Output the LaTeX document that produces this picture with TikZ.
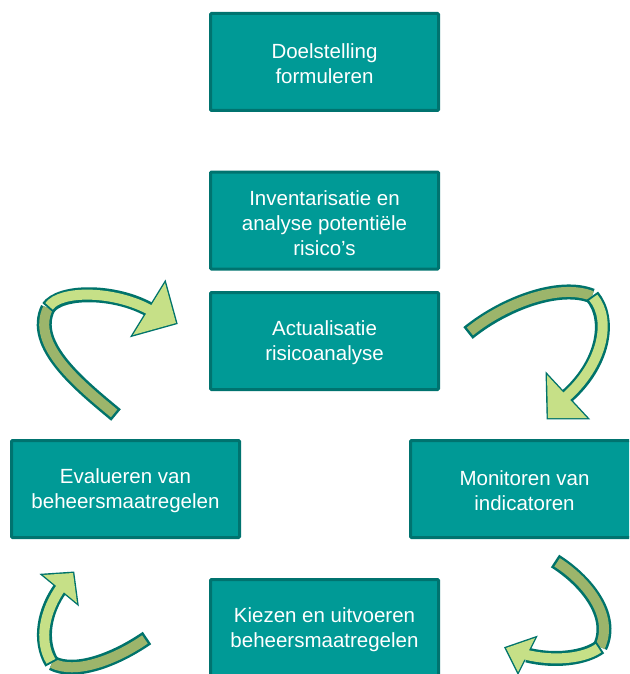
\documentclass[tikz,border=0pt]{standalone}
\usepackage{fontspec}
\setmainfont{Liberation Sans}
\definecolor{boxfill}{HTML}{009A96}
\definecolor{boxline}{HTML}{00736F}
\definecolor{arrline}{HTML}{00736B}
\definecolor{arrdark}{HTML}{9CB56B}
\definecolor{arrlight}{HTML}{C6E087}
\tikzset{
  stepbox/.style={draw=boxline, fill=boxfill, line width=3pt, rounded corners=1pt,
    minimum width=228pt, minimum height=97pt, inner sep=0pt, align=center,
    text=white, font=\fontsize{20.5}{25}\selectfont},
  boxtext/.style={text=white, align=center, font=\fontsize{20.5}{25}\selectfont, inner sep=0pt},
  ribout/.style={draw=arrline, line width=15pt},
  ribdark/.style={draw=arrdark, line width=10pt, shorten <=2.5pt},
  riblight/.style={draw=arrlight, line width=10pt, shorten <=2pt, shorten >=-2pt},
  headst/.style={fill=arrlight, draw=arrline, line width=2.8pt, line join=miter},
  headfill/.style={fill=arrlight}
}
\begin{document}
\begin{tikzpicture}[x=1pt, y=-1pt]
\useasboundingbox (0,0) rectangle (629,674);
\clip (0,0) rectangle (629,674);

\node[stepbox] (b1) at (324.5,62) {};
\node[stepbox] (b2) at (324.5,220.5) {};
\node[stepbox] (b3) at (324.5,341) {};
\node[stepbox] (b4) at (125.5,489) {};
\node[stepbox] (b5) at (524.5,489) {};
\node[stepbox] (b6) at (324.5,628) {};
\node[boxtext] (t1) at ([yshift=-2pt]b1.center) {Doelstelling\\formuleren};
\node[boxtext] (t2) at ([yshift=-2.5pt]b2.center) {Inventarisatie en\\analyse potentiële\\risico’s};
\node[boxtext] (t3) at ([yshift=-2pt]b3.center) {Actualisatie\\risicoanalyse};
\node[boxtext] (t4) at ([yshift=-2pt]b4.center) {Evalueren van\\beheersmaatregelen};
\node[boxtext] (t5) at ([yshift=-2pt]b5.center) {Monitoren van\\indicatoren};
\node[boxtext] (t6) at ([yshift=-2pt]b6.center) {Kiezen en uitvoeren\\beheersmaatregelen};

% Arrow 1 (top left)
\coordinate (a1t) at (116,415);
\coordinate (a1j) at (48,308);
\coordinate (a1e) at (150,310);
\draw[headst] (165,283) -- (176,323) -- (133,335) -- cycle;
\draw[ribout] (a1t) .. controls (80,385) and (30,345) .. (a1j);
\draw[ribdark] (a1t) .. controls (80,385) and (30,345) .. (a1j);
\draw[ribout] (a1j) .. controls (60,290) and (115,290) .. (a1e);
\fill[headfill] (165,283) -- (176,323) -- (133,335) -- cycle;
\draw[riblight] (a1j) .. controls (60,290) and (115,290) .. (a1e);

% Arrow 2 (top right)
\coordinate (a2t) at (468,333);
\coordinate (a2j) at (592,296);
\coordinate (a2e) at (566,397);
\draw[headst] (547,375) -- (548,418) -- (587,418) -- cycle;
\draw[ribout] (a2t) .. controls (505,303) and (560,283) .. (a2j);
\draw[ribdark] (a2t) .. controls (505,303) and (560,283) .. (a2j);
\draw[ribout] (a2j) .. controls (612,320) and (603,365) .. (a2e);
\fill[headfill] (547,375) -- (548,418) -- (587,418) -- cycle;
\draw[riblight] (a2j) .. controls (612,320) and (603,365) .. (a2e);

% Arrow 3 (bottom left)
\coordinate (a3t) at (147,638);
\coordinate (a3j) at (52,663);
\coordinate (a3e) at (60,589);
\draw[headst] (43,575) -- (73,573) -- (77,603) -- cycle;
\draw[ribout] (a3t) .. controls (115,660) and (75,675) .. (a3j);
\draw[ribdark] (a3t) .. controls (115,660) and (75,675) .. (a3j);
\draw[ribout] (a3j) .. controls (38,640) and (45,610) .. (a3e);
\fill[headfill] (43,575) -- (73,573) -- (77,603) -- cycle;
\draw[riblight] (a3j) .. controls (38,640) and (45,610) .. (a3e);

% Arrow 4 (bottom right)
\coordinate (a4t) at (555,561);
\coordinate (a4j) at (600,647);
\coordinate (a4e) at (527,655);
\draw[headst] (535,638) -- (506,648) -- (518,672) -- cycle;
\draw[ribout] (a4t) .. controls (585,580) and (615,615) .. (a4j);
\draw[ribdark] (a4t) .. controls (585,580) and (615,615) .. (a4j);
\draw[ribout] (a4j) .. controls (585,658) and (555,662) .. (a4e);
\fill[headfill] (535,638) -- (506,648) -- (518,672) -- cycle;
\draw[riblight] (a4j) .. controls (585,658) and (555,662) .. (a4e);
\end{tikzpicture}
\end{document}
